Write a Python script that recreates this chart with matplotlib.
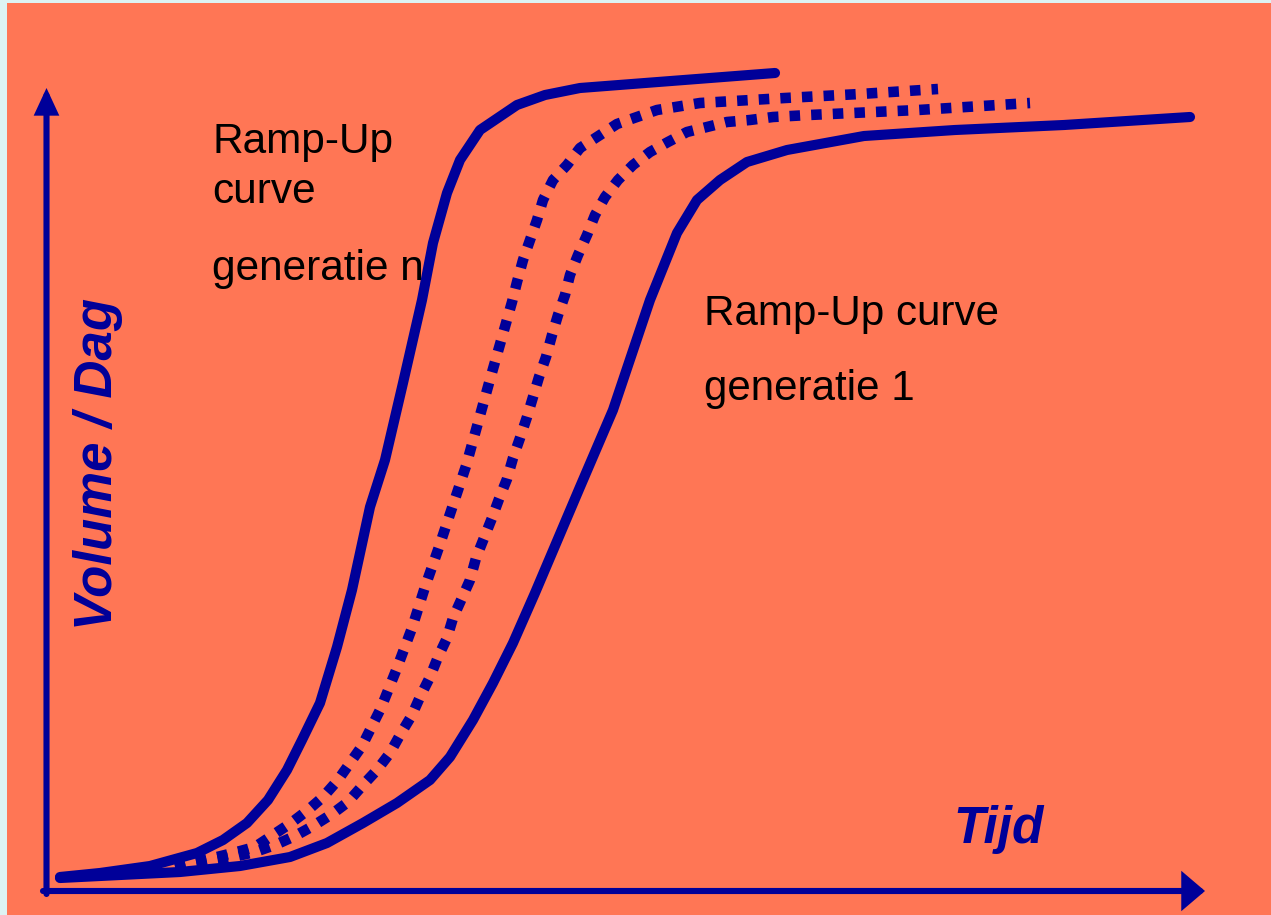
import matplotlib
matplotlib.use("Agg")
import matplotlib.pyplot as plt
from matplotlib.patches import FancyArrowPatch

plt.rcParams['font.family'] = ['Liberation Sans', 'DejaVu Sans']

# ---- data (time, volume) ----
gen_n_t = [15, 55, 105, 152, 178, 202, 223, 242, 257, 275, 292, 307, 325, 340,
           358, 377, 388, 402, 415, 435, 472, 500, 535, 730]
gen_n_v = [13, 17, 24, 37, 50, 67, 90, 120, 150, 187, 243, 300, 383, 430,
           507, 590, 647, 697, 730, 760, 785, 795, 802, 817]

mid1_t = [130, 148, 168, 188, 210, 228, 246, 263, 278, 293, 317, 336, 352, 367,
          380, 394, 421, 444, 467, 472, 478, 485, 492, 498, 508, 522, 535, 572,
          612, 655, 740, 815, 893]
mid1_v = [24, 28, 32, 37, 43, 55, 67, 80, 93, 110, 144, 182, 222, 262,
          303, 343, 424, 507, 588, 608, 630, 650, 670, 690, 710, 725, 742, 766,
          780, 787, 792, 796, 801]

mid2_t = [130, 168, 188, 210, 230, 250, 268, 287, 303, 318, 332, 345, 355, 367,
          375, 385, 393, 402, 408, 417, 425, 431, 439, 447, 454, 462, 468, 475,
          482, 488, 494, 501, 507, 513, 520, 525, 533, 542, 550, 560, 573, 588,
          605, 623, 642, 662, 682, 705, 728, 764, 873, 985]
mid2_v = [23, 30, 33, 38, 45, 54, 64, 76, 88, 105, 120, 137, 155, 175,
          193, 213, 233, 252, 272, 292, 310, 332, 352, 372, 391, 411, 432, 452,
          473, 493, 513, 533, 555, 575, 595, 615, 635, 655, 675, 693, 710, 725,
          738, 748, 758, 763, 768, 770, 773, 775, 780, 787]

gen_1_t = [15, 75, 135, 195, 245, 282, 318, 352, 385, 405, 428, 448, 468, 490,
           535, 568, 605, 632, 652, 675, 702, 742, 819, 910, 1019, 1145]
gen_1_v = [12, 15, 18, 24, 33, 47, 67, 87, 110, 133, 170, 207, 247, 297,
           403, 480, 590, 657, 690, 710, 728, 740, 754, 760, 765, 773]

label_gen_n = ["Ramp-Up", "curve", "generatie n"]
label_gen_1 = ["Ramp-Up curve", "generatie 1"]
x_label = "Tijd"
y_label = "Volume / Dag"

BLUE = '#000099'
BG = '#FF7655'

fig = plt.figure(figsize=(12.71, 9.15), dpi=100, facecolor='#DDF3F3')
ax = fig.add_axes([7 / 1271, 0, 1264 / 1271, 912 / 915])
ax.set_facecolor(BG)
ax.set_xlim(-38, 1226)
ax.set_ylim(-25, 887)
for s in ax.spines.values():
    s.set_visible(False)
ax.set_xticks([])
ax.set_yticks([])

lw = 7.3
ax.plot(gen_n_t, gen_n_v, color=BLUE, lw=lw, solid_capstyle='round',
        solid_joinstyle='round', zorder=3)
ax.plot(gen_1_t, gen_1_v, color=BLUE, lw=lw, solid_capstyle='round',
        solid_joinstyle='round', zorder=3)
ax.plot(mid1_t, mid1_v, color=BLUE, lw=7.6, linestyle=(0, (1.0, 1.05)),
        dash_capstyle='butt', zorder=2)
ax.plot(mid2_t, mid2_v, color=BLUE, lw=7.6, linestyle=(0, (1.0, 1.05)),
        dash_capstyle='butt', zorder=2)

# axes arrows
ya = FancyArrowPatch((1.5, -4), (1.5, 802),
                     arrowstyle='-|>,head_length=12.5,head_width=5.8',
                     mutation_scale=1, color=BLUE, lw=4.4,
                     shrinkA=0, shrinkB=0, joinstyle='miter', zorder=4)
xa = FancyArrowPatch((-2, -1), (1160, -1),
                     arrowstyle='-|>,head_length=11.5,head_width=9.8',
                     mutation_scale=1, color=BLUE, lw=4.4,
                     shrinkA=0, shrinkB=0, joinstyle='miter', zorder=4)
ax.add_patch(ya)
ax.add_patch(xa)

# texts
for txt, y in zip(label_gen_n, [737, 687, 610]):
    ax.text(167, y, txt, fontsize=30.5, color='black', ha='left', va='baseline')
for txt, y in zip(label_gen_1, [565, 490]):
    ax.text(659, y, txt, fontsize=30.3, color='black', ha='left', va='baseline')

ax.text(908, 47, x_label, fontsize=37, color=BLUE, fontweight='bold',
        fontstyle='italic', ha='left', va='baseline')
ax.text(67, 426, y_label, fontsize=38, color=BLUE, fontweight='bold',
        fontstyle='italic', rotation=90, rotation_mode='anchor',
        ha='center', va='baseline')

fig.savefig('out.png', dpi=100, facecolor=fig.get_facecolor())
